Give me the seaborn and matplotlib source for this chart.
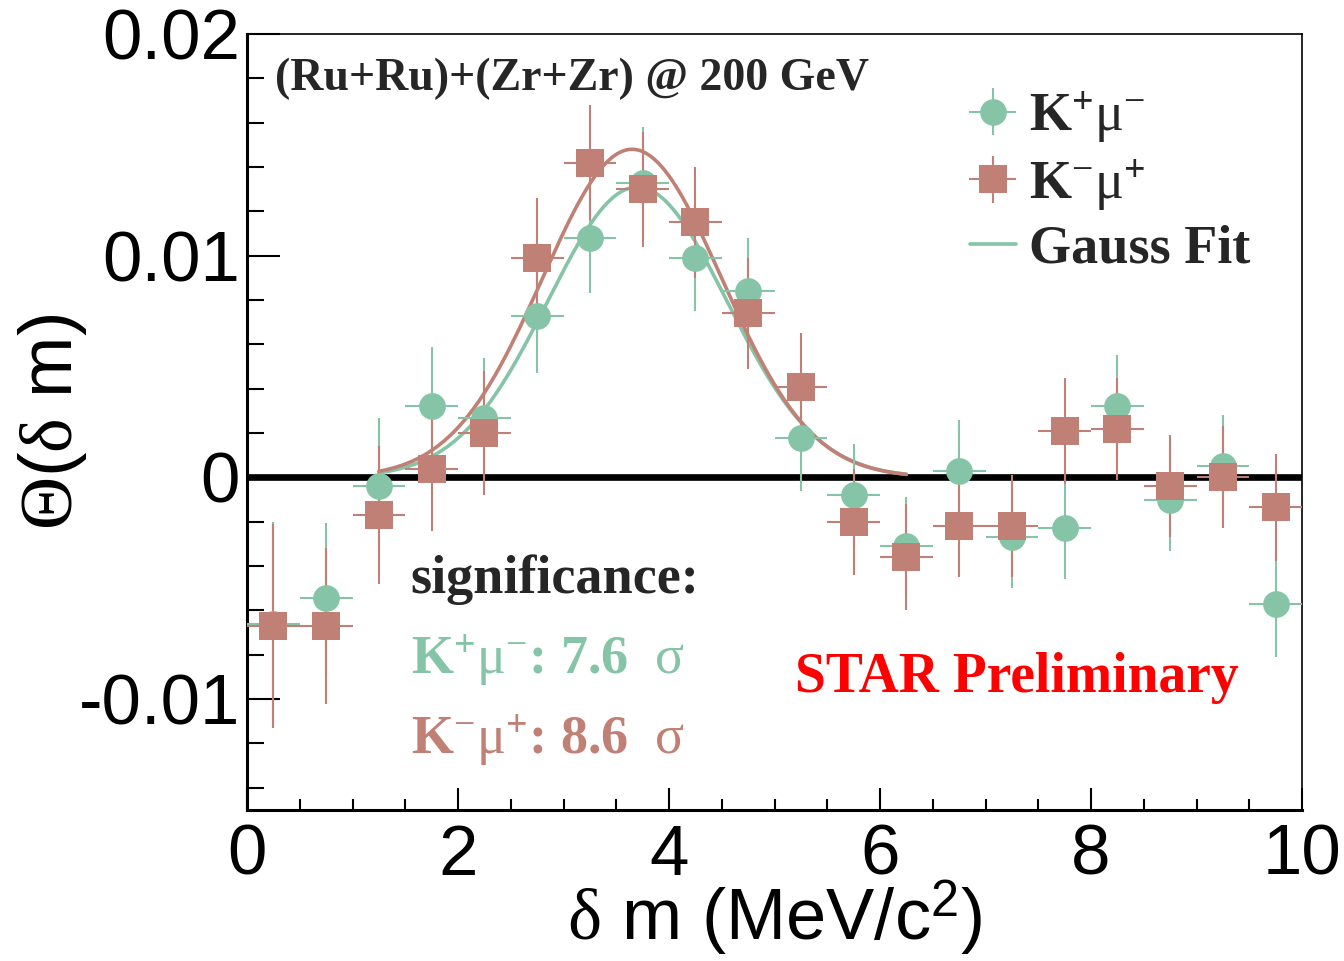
import numpy as np
import pandas as pd
import matplotlib
matplotlib.use("Agg")
import matplotlib.pyplot as plt
import seaborn as sns
from matplotlib.ticker import MultipleLocator, FixedLocator, FuncFormatter
from matplotlib.legend_handler import HandlerErrorbar
from matplotlib.container import ErrorbarContainer
from matplotlib.collections import LineCollection

# ---- data -------------------------------------------------------------
bin_centers = [0.25, 0.75, 1.25, 1.75, 2.25, 2.75, 3.25, 3.75, 4.25, 4.75,
               5.25, 5.75, 6.25, 6.75, 7.25, 7.75, 8.25, 8.75, 9.25, 9.75]
bin_half_width = 0.25

kp_mum = [-0.0066, -0.00545, -0.0004, 0.0032, 0.0027, 0.0073, 0.0108, 0.0133,
          0.0099, 0.0084, 0.0018, -0.0008, -0.0031, 0.0003, -0.0027, -0.0023,
          0.0032, -0.0010, 0.0005, -0.0057]
kp_mum_err = [0.0046, 0.0034, 0.0031, 0.0027, 0.0027, 0.0026, 0.0025, 0.0025,
              0.0024, 0.0024, 0.0024, 0.0023, 0.0022, 0.0023, 0.0023, 0.0023,
              0.0023, 0.0023, 0.0023, 0.0024]

km_mup = [-0.0067, -0.0067, -0.0017, 0.0004, 0.0020, 0.0099, 0.0142, 0.0130,
          0.0115, 0.0074, 0.0041, -0.0020, -0.0036, -0.0022, -0.0022, 0.0021,
          0.0022, -0.0004, 0.0000, -0.00135]
km_mup_err = [0.0046, 0.0035, 0.0031, 0.0028, 0.0028, 0.0027, 0.0026, 0.0026,
              0.0025, 0.0025, 0.0024, 0.0024, 0.0024, 0.0023, 0.0023, 0.0024,
              0.0023, 0.0023, 0.0023, 0.0024]

# Gaussian fit results: amplitude, mean, sigma
fit_kp_mum = [0.0131, 3.70, 0.85]
fit_km_mup = [0.0148, 3.65, 0.85]
fit_range = [1.25, 6.25]

significance = {"kp_mum": 7.6, "km_mup": 8.6}

x_ticks = [0, 2, 4, 6, 8, 10]
y_ticks = [-0.01, 0.0, 0.01, 0.02]
y_tick_labels = ["-0.01", "0", "0.01", "0.02"]

# ---- style ------------------------------------------------------------
sns.set_theme(style="ticks")
plt.rcParams.update({
    "font.family": ["Liberation Sans", "DejaVu Sans"],
    "mathtext.fontset": "custom",
    "mathtext.rm": "Liberation Serif",
    "mathtext.bf": "Liberation Serif:bold",
    "mathtext.it": "Liberation Serif:italic",
    "mathtext.sf": "Liberation Sans",
    "axes.linewidth": 1.2,
})

GREEN = "#85c4a6"
BROWN = "#c08075"
SERIF = ["Liberation Serif", "DejaVu Serif"]

fig = plt.figure(figsize=(13.44, 9.61), dpi=100)
ax = fig.add_axes([247 / 1344, 1 - 810 / 961, 1055 / 1344, 776 / 961])

df = pd.DataFrame({
    "dm": bin_centers * 2,
    "theta": kp_mum + km_mup,
    "err": kp_mum_err + km_mup_err,
    "pair": ["K+mu-"] * len(bin_centers) + ["K-mu+"] * len(bin_centers),
})

# zero reference line
ax.axhline(0.0, color="black", lw=4.8, zorder=1)

# fitted Gaussians
xf = np.linspace(fit_range[0], fit_range[1], 300)
fits = []
for (amp, mu, sig), name in [(fit_kp_mum, "K+mu-"), (fit_km_mup, "K-mu+")]:
    fits.append(pd.DataFrame({"dm": xf,
                              "theta": amp * np.exp(-0.5 * ((xf - mu) / sig) ** 2),
                              "pair": name}))
fit_df = pd.concat(fits)
sns.lineplot(data=fit_df, x="dm", y="theta", hue="pair",
             palette={"K+mu-": GREEN, "K-mu+": BROWN}, lw=2.6,
             legend=False, ax=ax, zorder=2)

# data points with bin-width and statistical error bars
styles = {"K+mu-": (GREEN, "o", 370, 19.2), "K-mu+": (BROWN, "s", 400, 20.0)}
legend_handles = {}
for name, (col, mk, size, ms) in styles.items():
    sub = df[df["pair"] == name]
    ax.errorbar(sub["dm"], sub["theta"], xerr=bin_half_width, yerr=sub["err"],
                fmt="none", ecolor=col, elinewidth=1.5, capsize=0, zorder=3)
    sns.scatterplot(data=sub, x="dm", y="theta", marker=mk, s=size, color=col,
                    linewidth=0, legend=False, ax=ax, zorder=4)
    key_marker = plt.Line2D([], [], ls="none", marker=mk, ms=ms, color=col, mew=0)
    key_bars = (LineCollection([], colors=col, linewidths=1.5),
                LineCollection([], colors=col, linewidths=1.5))
    legend_handles[name] = ErrorbarContainer((key_marker, (), key_bars),
                                             has_xerr=True, has_yerr=True)

fit_handle = plt.Line2D([], [], color=GREEN, lw=2.6)

# ---- axes -------------------------------------------------------------
ax.set_xlim(0, 10)
ax.set_ylim(-0.015, 0.02)
ax.xaxis.set_major_locator(FixedLocator(x_ticks))
ax.xaxis.set_minor_locator(MultipleLocator(0.5))
ax.yaxis.set_major_locator(FixedLocator(y_ticks))
ax.yaxis.set_minor_locator(MultipleLocator(0.002))
ax.yaxis.set_major_formatter(FuncFormatter(
    lambda v, p: y_tick_labels[y_ticks.index(round(v, 3))] if round(v, 3) in y_ticks else ""))
ax.tick_params(axis="both", which="both", direction="in", top=False, right=False,
               color="black", labelsize=51, labelcolor="black")
ax.tick_params(axis="y", which="major", length=24, width=1.5, pad=5)
ax.tick_params(axis="y", which="minor", length=12, width=1.5)
ax.tick_params(axis="x", which="major", length=16, width=1.5, pad=10)
ax.tick_params(axis="x", which="minor", length=8, width=1.5)
for side in ["left", "bottom"]:
    ax.spines[side].set_linewidth(2.2)
for side in ["top", "right"]:
    ax.spines[side].set_visible(True)
    ax.spines[side].set_linewidth(1.2)
for s in ax.spines.values():
    s.set_color("black")

ax.set_xlabel(r"$\mathrm{\delta}$ m (MeV/c$^{\mathsf{2}}$)", fontsize=52, color="black")
ax.set_ylabel(r"$\mathrm{\Theta}$($\mathrm{\delta}$ m)", fontsize=53, color="black")
ax.xaxis.set_label_coords(0.5, -0.088)
ax.yaxis.set_label_coords(-0.15, 0.5)

# ---- annotations ------------------------------------------------------
ax.text(0.027, 0.942, "(Ru+Ru)+(Zr+Zr) @ 200 GeV", transform=ax.transAxes,
        fontsize=33, fontweight="bold", family=SERIF, va="center", ha="left")
ax.text(0.155, 0.297, "significance:", transform=ax.transAxes,
        fontsize=39, fontweight="bold", family=SERIF, va="center", ha="left")
ax.text(0.155, 0.193,
        r"$\mathbf{K}^{\mathbf{+}}\mathrm{\mu}^{-}$" + f": {significance['kp_mum']:.1f}  "
        + r"$\mathrm{\sigma}$",
        transform=ax.transAxes, fontsize=39, fontweight="bold", family=SERIF,
        color=GREEN, va="center", ha="left")
ax.text(0.155, 0.090,
        r"$\mathbf{K}^{-}\mathrm{\mu}^{\mathbf{+}}$" + f": {significance['km_mup']:.1f}  "
        + r"$\mathrm{\sigma}$",
        transform=ax.transAxes, fontsize=39, fontweight="bold", family=SERIF,
        color=BROWN, va="center", ha="left")
ax.text(0.519, 0.170, "STAR Preliminary", transform=ax.transAxes,
        fontsize=40, fontweight="bold", family=SERIF, color="red",
        va="center", ha="left")

leg = ax.legend([legend_handles["K+mu-"], legend_handles["K-mu+"], fit_handle],
                [r"$\mathbf{K}^{\mathbf{+}}\mathrm{\mu}^{-}$",
                 r"$\mathbf{K}^{-}\mathrm{\mu}^{\mathbf{+}}$",
                 "Gauss Fit"],
                handler_map={ErrorbarContainer: HandlerErrorbar(xerr_size=0.43, numpoints=1)},
                loc="upper left", bbox_to_anchor=(0.685, 0.929), frameon=False,
                borderpad=0, borderaxespad=0, handlelength=0.85, numpoints=1,
                handletextpad=0.25, labelspacing=0.22,
                prop={"family": SERIF, "weight": "bold", "size": 39})

fig.savefig("out.png", dpi=100)
